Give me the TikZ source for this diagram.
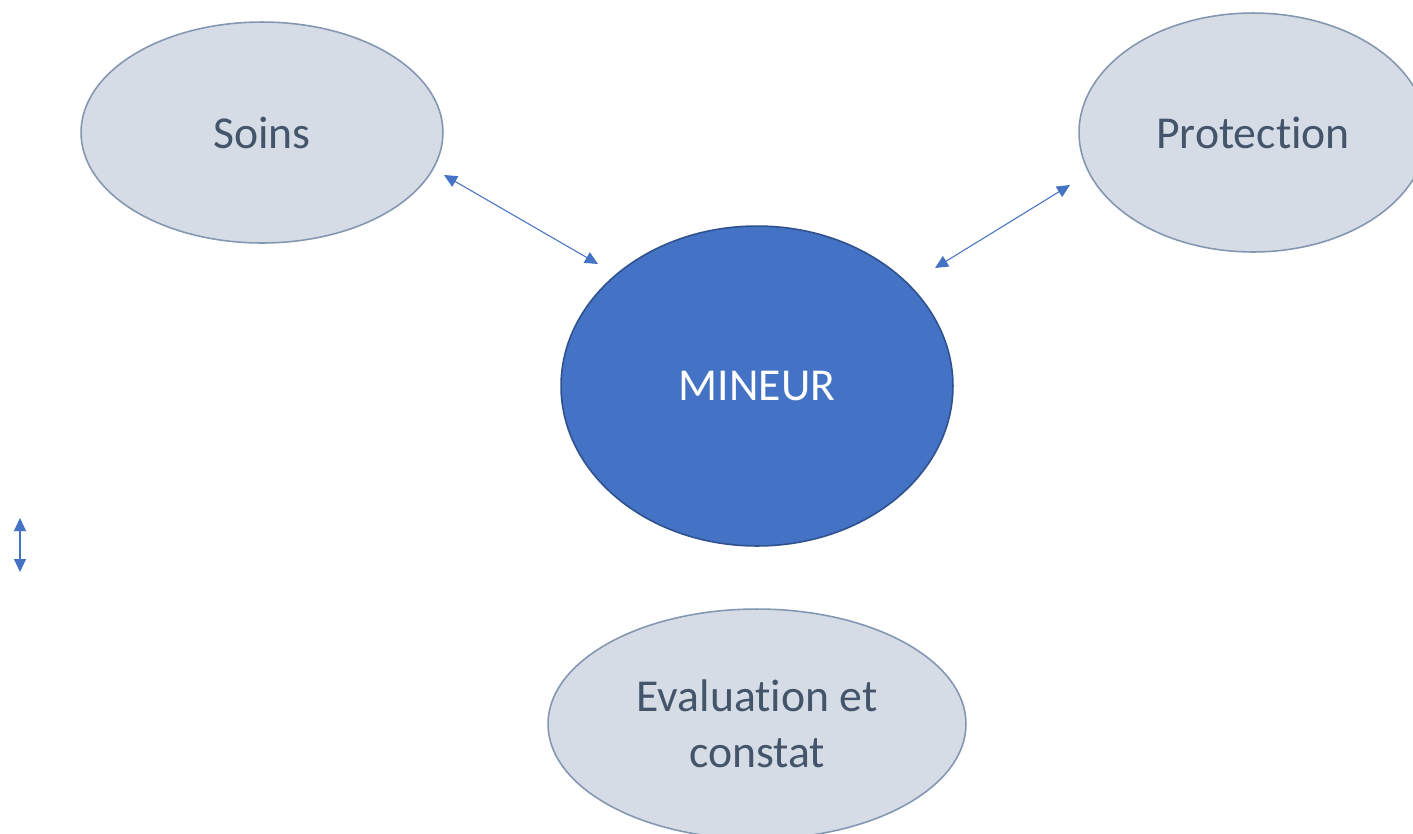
\documentclass[tikz,border=0pt]{standalone}
\usepackage{fontspec}
\setmainfont[Ligatures=NoCommon]{Carlito}
\usetikzlibrary{arrows.meta,shapes.geometric}
\definecolor{bulle}{HTML}{D6DCE5}
\definecolor{bord}{HTML}{8497B0}
\definecolor{texte}{HTML}{44546A}
\definecolor{centre}{HTML}{4472C4}
\definecolor{bordcentre}{HTML}{2F528F}
\begin{document}
\begin{tikzpicture}[x=0.02cm,y=-0.02cm,
theme/.style ={ellipse, draw=bord, fill=bulle, line width=0.9pt,
  text=texte, inner sep=0pt, align=center,
  font=\fontsize{26}{32}\selectfont
},
mineur/.style ={ellipse, draw=bordcentre, fill=centre, line width=0.9pt,
  text=white, inner sep=0pt,
  font=\fontsize{26}{32}\selectfont
},
lien/.style ={draw=centre, line width=0.6pt,
  {Triangle[length=0.26cm,width=0.24cm]}-{Triangle[length=0.26cm,width=0.24cm]}
}]
\clip (0,0) rectangle (1413,833);
\fill[white] (0,0) rectangle (1413,833);
\node (soins) at (262,132.5) [theme, minimum width=7.24cm, minimum height=4.42cm] {Soins};
\node (protection) at (1253,132.5) [theme, minimum width=6.96cm, minimum height=4.78cm] {Protection};
\node (mineur) at (757,386) [mineur, minimum width=7.84cm, minimum height=6.4cm] {MINEUR};
\node (evaluation) at (757,724) [theme, minimum width=8.36cm, minimum height=4.6cm] {Evaluation et\\constat};
\coordinate (s1) at (444,175);
\coordinate (s2) at (598,264);
\coordinate (p1) at (1070,185);
\coordinate (p2) at (935,268);
\coordinate (g1) at (20,518);
\coordinate (g2) at (20,572);
\draw[lien] (s1) -- (s2);
\draw[lien] (p2) -- (p1);
\draw[lien] (g1) -- (g2);
\end{tikzpicture}
\end{document}
